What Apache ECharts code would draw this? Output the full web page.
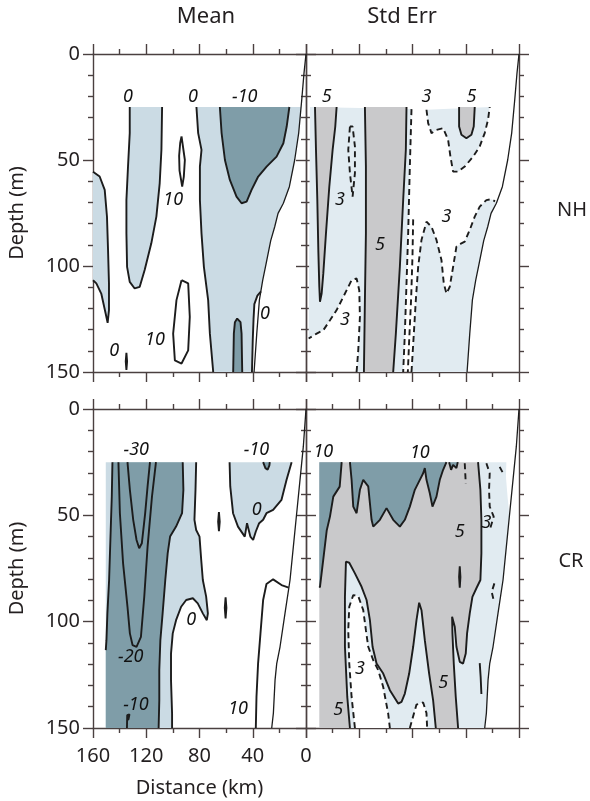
<!DOCTYPE html>
<html><head><meta charset="utf-8">
<script src="https://cdn.jsdelivr.net/npm/echarts@6/dist/echarts.min.js"></script>
<style>html,body{margin:0;padding:0;background:#fff}#c{width:590px;height:801px}</style>
</head><body><div id="c"></div>
<script>
// ================= DATA (distance km, depth m) =================
const xTickLabels = [160, 120, 80, 40, 0];
const yTickLabels = [0, 50, 100, 150];
const colTitles = ['Mean', 'Std Err'];
const rowTitles = ['NH', 'CR'];

// coastline / bottom
const nhCoast = [[0,0],[1.5,9],[3.2,21.6],[5.5,37.3],[8.5,50],[12.5,62.6],[17,70.4],[21,75.2],[23.5,81.5],[26.5,88],[30,99],[32.5,106.7],[35,116],[37,132],[39,150]];
const crCoast = [[0,0],[2,17.6],[4.5,33.3],[7,49],[9.5,64.7],[12,80.4],[15.75,96],[19.5,111.8],[22,119.7],[23.25,127.5],[24.5,143],[25.75,150]];

// ---- NH Mean contours ----
const nhMeanC0a = [[160,55.5],[155,57.8],[151.2,64.1],[149.5,76.7],[148.7,92.5],[148,108.2],[148,120.8],[149,126.8],[150.5,122.4],[153.8,113],[157.5,108.2],[160,106.7]];
const nhMeanC0b = [[132.4,25],[132.4,37.3],[133.7,53.1],[134.9,68.9],[134.9,84.6],[134.4,100.4],[132.4,107.5],[128.7,110.6],[124.9,109.8],[121.2,101.9],[116.2,89.3],[112.4,76.7],[109.9,61],[108.6,45.2],[108.1,25]];
const nhMeanC0c = [[82.3,25],[81,37.3],[78.5,45.2],[79.7,53.1],[79.7,68.9],[78.5,84.6],[76.7,100.4],[73.5,116.1],[72.2,131.9],[69.7,150]];
const nhMeanC0d = [[33.8,112],[36.5,114],[38.8,118],[39.4,125],[40,135],[40.6,150]];
const nhMeanCm10a = [[64.7,25],[63.4,37.3],[60.9,50],[57.2,59.4],[52.2,67.3],[48.4,70.4],[44.6,69.6],[40.9,64.1],[35.9,57.8],[29.6,53.1],[22.1,48.4],[17,42.1],[14.5,34.2],[12.5,25]];
const nhMeanCm10b = [[54.7,150],[54.2,131.9],[53.4,126.5],[51.7,124.8],[49.2,126.5],[48.4,131.9],[47.9,150]];
const nhMeanC10a = [[93.5,38.9],[91,50],[91.8,58],[93,62.6],[95,55],[95.3,48],[94.5,42],[93.5,38.9]];
const nhMeanC10b = [[93.5,106.7],[88.5,108.2],[87.3,124],[88.5,139.8],[93.5,146],[98.5,144.5],[99.8,131.9],[97.3,116.1],[93.5,106.7]];
const nhMeanSmall = [[134.9,141],[134.4,145],[134.9,149],[135.4,145],[134.9,141]];
const nhMeanLabels = [['0',133.7,20],['0',85,20],['-10',46,20],['10',99.8,69],['10',113.5,135],['0',144,140],['0',30.8,122.5]];

// ---- NH Std Err contours ----
const nhSeC5a = [[153.25,25],[152.5,45.2],[151.5,68.9],[150.75,92.5],[150,109.8],[149.5,116.9],[148.25,113],[147,103.5],[145,84.6],[142.5,62.6],[140,45.2],[138,34.2],[137,25]];
const nhSeC5b = [[115.75,25],[115,53.1],[115,84.6],[115.75,116.1],[116.5,150]];
const nhSeC5c = [[84.5,25],[85,45.2],[87,68.9],[89.5,100.4],[92.5,131.9],[94.5,150]];
const nhSeC5d = [[45,25],[45,34.2],[43.25,38.1],[39.5,39.7],[35.75,38.1],[34,34.2],[33.25,25]];
const nhSeC3a = [[80.75,26],[82,53.1],[83.25,84.6],[84.5,108.2],[85.75,131.9],[87,150]];
const nhSeC3b = [[122,150],[120.75,139.8],[119.5,124],[120,111.4],[122,105.9],[125.75,106.7],[132,114.6],[137,120.8],[142,125.6],[147,130.3],[152,131.9],[158,134.2]];
const nhSeC3c = [[69.5,26.3],[68.25,32.6],[65.75,37.3],[62,35.8],[57,35],[53.25,40.5],[51.5,48.4],[49.5,55.5],[45.75,55.5],[40.75,53.1],[34.5,48.4],[29.5,43.6],[25.75,37.3],[23.25,31],[22,25]];
const nhSeC3d = [[80.75,150],[79,131.9],[77.5,116.1],[75.75,100.4],[73.25,87.7],[69.5,79.1],[65.75,81.5],[62,87.7],[58.25,97.2],[56.5,108.2],[54.5,113],[52,109.8],[49.5,100.4],[47,90.9],[43.25,89.3],[40.75,88.5],[37,83],[33.25,76.7],[29.5,72],[24.5,68.9],[20.75,68.5],[18,69.5]];
const nhSeC3e = [[127,34.2],[128.25,45.2],[127,56.2],[125,67.3],[123.25,56.2],[123.25,43.6],[125,34.2],[127,34.2]];
const nhSeC3f = [[79.5,78],[80,95],[81,115],[82.5,135],[83.5,150]];
const nhSeLabels = [['5',144.5,20],['3',69.5,20],['5',35.75,20],['3',134.5,69],['5',104.5,90],['3',54.5,77],['3',130.75,125.6]];

// ---- CR Mean contours ----
const crMeanCm10a = [[145.4,25],[145.9,41.2],[146.7,56.9],[147.9,80.4],[149.2,96.1],[149.9,108.7],[150.4,113.4]];
const crMeanCm20 = [[140.9,25],[139.8,49],[137.4,72.6],[134.1,93],[132.3,105.5],[130.3,111],[127.3,111.8],[124,107.1],[121.5,88.3],[119,64.7],[115.7,41.2],[112.7,25]];
const crMeanCm30 = [[134.1,25],[132.3,38],[129.8,52.1],[127.3,61.6],[125.3,65.5],[123.3,63.1],[120.8,49],[119,36.4],[117.2,25]];
const crMeanCm10b = [[92.6,25],[92.1,38],[93.1,49],[97.6,55.3],[102.1,60],[103.9,67.9],[105.7,80.4],[107.7,96.1],[109.4,108.7],[110.2,122.8],[110.2,137],[110.7,150]];
const crMeanC0a = [[82.5,25],[83,38],[83.8,52.1],[82.5,56.9],[80,60],[78.7,71],[77.5,80.4],[75,88.2],[73.7,96.1],[74.5,99.3],[77.5,96.1],[81.3,91.4],[85,89],[90,89.8],[93.8,93],[97.6,99.3],[100.1,105.5],[101.4,115],[101.4,127.5],[100.6,143.2],[100.6,150]];
const crMeanC0b = [[57.4,25],[56.9,36.4],[54.8,49],[51.1,55.3],[46,60],[44.3,53.7],[41.8,60],[39.7,61.6],[37.7,57.6],[35.2,53.7],[32.2,52.1],[29.7,49],[24.7,47.4],[18.4,42.7],[14.6,33.3],[10.8,25]];
const crMeanCm10c = [[32.2,25],[30.5,27.8],[28.8,28.5],[27.5,26.5],[27.2,25]];
const crMeanC10 = [[37.7,150],[37.2,135.4],[36,119.7],[34.2,105.5],[32.2,89.8],[29.7,82.3],[24.7,80.1],[18.4,82.8],[13,84]];
const crMeanSmallA = [[65.4,48.5],[64.8,53],[65.4,57.5],[66,53],[65.4,48.5]];
const crMeanSmallB = [[60.4,88.5],[59.8,93.5],[60.4,98.5],[61,93.5],[60.4,88.5]];
const crMeanSmallC = [[134.5,150],[134.3,144],[132.6,143.6],[133.4,146],[134.3,146]];
const crMeanLabels = [['-30',127.5,19],['-10',37.2,19],['0',37,47.5],['0',86.3,99.3],['-20',131.6,116.6],['-10',127.8,139],['10',51,141]];

// ---- CR Std Err contours ----
const crSeC10a = [[133.2,25],[134.7,36.5],[139.5,41.2],[142,50.6],[144.4,57],[146.5,68],[149.5,83.6],[150,84]];
const crSeC10b = [[127,25],[125.75,33.3],[124.5,45.9],[122,49],[119.5,38],[117,33.3],[113.25,36.4],[110.75,52.1],[109.5,55.3],[104.5,52.1],[99.5,46.6],[94.5,52.1],[89.5,55.3],[85.75,52.1],[82,45.9],[78.25,38],[74.5,33.3],[72,30.2],[70.75,27.8],[69.5,33.3],[67,39.6],[65,45.9],[62,41.2],[59.5,33.3],[57,28.6],[54.5,25]];
const crSeC10c = [[52.5,25],[51,28.6],[49.5,26.3],[47,27.8],[46,25]];
const crSeC5a = [[127,150],[129,135.4],[130.75,111.8],[130.75,88.3],[130,71.8],[127.5,72.3],[123.25,77.3],[118.25,83.6],[114.5,89.8],[112,99.3],[110,111.8],[107,119.7],[102,124.4],[97,132.2],[90.75,138.5],[88.25,137.7],[85.75,133.8],[82.5,124.4],[79.5,111.8],[77,99.3],[75,91.1],[73.25,94.6],[70.75,108.7],[67.5,124.4],[64.5,137],[62.5,150]];
const crSeC5b = [[45.75,150],[47.5,135.4],[49,119.7],[50,105.5],[50.25,97.7],[48.25,102.4],[47,111.8],[44.5,118.9],[42,119.7],[40,115],[39,105.5],[37,96.1],[35,88.3],[32,84.3],[29,80.4],[28.25,67.9],[28.25,52.1],[29,38],[30.75,25]];
const crSeC5c = [[44.5,74],[44,79],[44.5,84],[45,79],[44.5,74]];
const crSeC5d = [[29.5,119.5],[28.8,126],[28.25,134]];
const crSeEdge = [[9.5,25],[9.8,32],[8.5,42],[7.2,50]];
const crSeC3a = [[123.25,150],[125.75,135.4],[127.5,119.7],[128.25,104],[127.5,93],[124.5,87.5],[120.75,88],[117,94.6],[115,104],[113.25,111.8],[109.5,118.1],[105.75,122.8],[102,130.7],[98.25,143.3],[97,150]];
const crSeC3b = [[82,150],[77,139],[72,138],[69.5,143],[69,150]];
const crSeC3c = [[24.5,25.5],[22,30.2],[22.5,38],[22,45.9],[19,50.6],[22,56.9]];
const crSeC3d = [[14.5,27.2],[12,30.2]];
const crSeC3e = [[18.5,82],[20.5,86],[19,90]];
const crSeC3f = [[40.75,25.5],[40,35]];
const crSeLabels = [['10',147,20],['10',74.5,20.5],['5',44.5,57.6],['3',24.5,53.7],['3',119.5,122],['5',57,129],['5',135.75,141.7]];

// ================= STYLE =================
const AX = '#4a4040';
const INK = '#1c1c1c';
const MEAN_LIGHT = '#cbdbe4', MEAN_DARK = '#7f9da8';
const SE_LIGHT = '#e1ebf1', SE_GRAY = '#c9c9cb', SE_DARK = '#7f9da8';
const FONT = '"Noto Sans", "Open Sans", sans-serif';

// ================= HELPERS =================
const rev = a => a.slice().reverse();
function coastKm(c, d) {
  for (let i = 0; i < c.length - 1; i++) {
    if (d >= c[i][1] && d <= c[i+1][1]) {
      const t = (d - c[i][1]) / (c[i+1][1] - c[i][1]);
      return c[i][0] + t * (c[i+1][0] - c[i][0]);
    }
  }
  return c[c.length-1][0];
}
function coastSeg(c, d0, d1) {
  const out = [[coastKm(c, d0), d0]];
  c.forEach(p => { if (p[1] > d0 && p[1] < d1) out.push(p); });
  out.push([coastKm(c, d1), d1]);
  return out;
}

const series = [];
function fill(g, pts, color, z) {
  series.push({
    type: 'custom', coordinateSystem: 'cartesian2d', xAxisIndex: 2*g, yAxisIndex: 2*g,
    data: [0], silent: true, z: z, clip: true, animation: false,
    renderItem: (params, api) => ({
      type: 'polygon',
      shape: { points: pts.map(p => api.coord(p)) },
      style: { fill: color, stroke: null }
    })
  });
}
function line(g, pts, dashed, w) {
  series.push({
    type: 'line', xAxisIndex: 2*g, yAxisIndex: 2*g, data: pts,
    symbol: 'none', showSymbol: false, silent: true, z: 10, animation: false,
    lineStyle: { color: INK, width: w || 1.9, type: dashed ? [6, 4] : 'solid' }
  });
}
function labels(g, arr) {
  series.push({
    type: 'custom', coordinateSystem: 'cartesian2d', xAxisIndex: 2*g, yAxisIndex: 2*g,
    data: arr.map(a => [a[1], a[2]]), silent: true, z: 20, animation: false,
    renderItem: (params, api) => {
      const p = api.coord([api.value(0), api.value(1)]);
      return { type: 'text', x: p[0], y: p[1],
        style: { text: arr[params.dataIndex][0], fill: '#111', font: 'italic 18px ' + FONT, align: 'center', verticalAlign: 'middle' } };
    }
  });
}

// ---- NH Mean (grid 0) ----
fill(0, nhMeanC0a, MEAN_LIGHT, 1);
fill(0, nhMeanC0b, MEAN_LIGHT, 1);
fill(0, [...nhMeanC0c, ...rev(nhMeanC0d), ...rev(coastSeg(nhCoast, 25, 112))], MEAN_LIGHT, 1);
fill(0, nhMeanCm10a, MEAN_DARK, 2);
fill(0, nhMeanCm10b, MEAN_DARK, 2);
[nhMeanC0a, nhMeanC0b, nhMeanC0c, nhMeanC0d, nhMeanCm10a, nhMeanCm10b, nhMeanC10a, nhMeanC10b, nhMeanSmall].forEach(c => line(0, c, false));
line(0, nhCoast, false, 1.3);
labels(0, nhMeanLabels);

// ---- NH Std Err (grid 1) ----
fill(1, [[157,25], ...nhSeC3a, ...nhSeC3b], SE_LIGHT, 1);
fill(1, nhSeC3c, SE_LIGHT, 1);
fill(1, [...nhSeC3d, ...coastSeg(nhCoast, 70, 150)], SE_LIGHT, 1);
fill(1, nhSeC5a, SE_GRAY, 2);
fill(1, [...nhSeC5b, ...rev(nhSeC5c)], SE_GRAY, 2);
fill(1, nhSeC5d, SE_GRAY, 2);
[nhSeC5a, nhSeC5b, nhSeC5c, nhSeC5d].forEach(c => line(1, c, false));
[nhSeC3a, nhSeC3b, nhSeC3c, nhSeC3d, nhSeC3e, nhSeC3f].forEach(c => line(1, c, true));
line(1, nhCoast, false, 1.3);
labels(1, nhSeLabels);

// ---- CR Mean (grid 2) ----
fill(2, [[150.4,25], ...crMeanC0a, [150.4,150]], MEAN_LIGHT, 1);
fill(2, crMeanC0b, MEAN_LIGHT, 1);
fill(2, [...crMeanCm10a, [150.4,150], ...rev(crMeanCm10b)], MEAN_DARK, 2);
fill(2, crMeanCm10c, MEAN_DARK, 2);
[crMeanCm10a, crMeanCm20, crMeanCm30, crMeanCm10b, crMeanC0a, crMeanC0b, crMeanCm10c, crMeanC10, crMeanSmallA, crMeanSmallB, crMeanSmallC].forEach(c => line(2, c, false));
line(2, crCoast, false, 1.3);
labels(2, crMeanLabels);

// ---- CR Std Err (grid 3) ----
fill(3, [[150,25], ...rev(crSeC5b), [150,150]], SE_GRAY, 1);
fill(3, crSeC5a, SE_LIGHT, 2);
fill(3, [...crSeC5b, ...crSeEdge, ...coastSeg(crCoast, 50, 150)], SE_LIGHT, 2);
fill(3, crSeC3a, '#ffffff', 3);
fill(3, crSeC3b, '#ffffff', 3);
fill(3, [[150,25], ...crSeC10a], SE_DARK, 4);
fill(3, crSeC10b, SE_DARK, 4);
fill(3, crSeC10c, SE_DARK, 4);
[crSeC10a, crSeC10b, crSeC10c, crSeC5a, crSeC5b, crSeC5c, crSeC5d].forEach(c => line(3, c, false));
[crSeC3a, crSeC3b, crSeC3c, crSeC3d, crSeC3e, crSeC3f].forEach(c => line(3, c, true));
line(3, crCoast, false, 1.3);
labels(3, crSeLabels);

// ================= AXES =================
const grids = [
  { left: 93, top: 54, width: 213, height: 318 },
  { left: 306, top: 54, width: 213, height: 318 },
  { left: 93, top: 409, width: 213, height: 319 },
  { left: 306, top: 409, width: 213, height: 319 }
];
const tickStyle = { color: AX, width: 1.4 };
function xAx(g, pos, show, name) {
  return {
    type: 'value', gridIndex: g, position: pos, min: 0, max: 160, interval: 40, inverse: true,
    axisLine: { show: true, onZero: false, lineStyle: tickStyle },
    axisTick: { show: true, length: 10, lineStyle: tickStyle },
    minorTick: { show: true, splitNumber: 2, length: 5, lineStyle: tickStyle },
    splitLine: { show: false }, minorSplitLine: { show: false },
    axisLabel: { show: show, margin: 18, fontSize: 20, color: '#231f20', fontFamily: FONT,
      formatter: v => xTickLabels.includes(v) ? String(v) : '' },
    name: name || '', nameLocation: 'middle', nameGap: 50,
    nameTextStyle: { fontSize: 20, color: '#231f20', fontFamily: FONT }
  };
}
function yAx(g, pos, show, name) {
  return {
    type: 'value', gridIndex: g, position: pos, min: 0, max: 150, interval: 50, inverse: true,
    axisLine: { show: true, onZero: false, lineStyle: tickStyle },
    axisTick: { show: true, length: 10, lineStyle: tickStyle },
    minorTick: { show: true, splitNumber: 5, length: 5, lineStyle: tickStyle },
    splitLine: { show: false }, minorSplitLine: { show: false },
    axisLabel: { show: show, margin: 13, fontSize: 20, color: '#231f20', fontFamily: FONT,
      formatter: v => yTickLabels.includes(v) ? String(v) : '' },
    name: name || '', nameLocation: 'middle', nameGap: 66,
    nameTextStyle: { fontSize: 20, color: '#231f20', fontFamily: FONT }
  };
}
const xAxes = [], yAxes = [];
for (let g = 0; g < 4; g++) {
  xAxes.push(xAx(g, 'bottom', g === 2, g === 2 ? 'Distance (km)' : ''));
  xAxes.push(xAx(g, 'top', false));
  const left = (g % 2 === 0);
  yAxes.push(yAx(g, 'left', left, left ? 'Depth (m)' : ''));
  yAxes.push(yAx(g, 'right', false));
}

const chart = echarts.init(document.getElementById('c'), null, { renderer: 'canvas' });
chart.setOption({
  animation: false,
  backgroundColor: '#ffffff',
  grid: grids,
  xAxis: xAxes,
  yAxis: yAxes,
  series: series,
  graphic: [
    { type: 'text', x: 206, y: 17, style: { text: colTitles[0], font: '22px ' + FONT, fill: '#231f20', align: 'center', verticalAlign: 'middle' } },
    { type: 'text', x: 402, y: 17, style: { text: colTitles[1], font: '22px ' + FONT, fill: '#231f20', align: 'center', verticalAlign: 'middle' } },
    { type: 'text', x: 572, y: 210, style: { text: rowTitles[0], font: '20px ' + FONT, fill: '#231f20', align: 'center', verticalAlign: 'middle' } },
    { type: 'text', x: 571, y: 561, style: { text: rowTitles[1], font: '20px ' + FONT, fill: '#231f20', align: 'center', verticalAlign: 'middle' } }
  ]
});
</script>
</body></html>
